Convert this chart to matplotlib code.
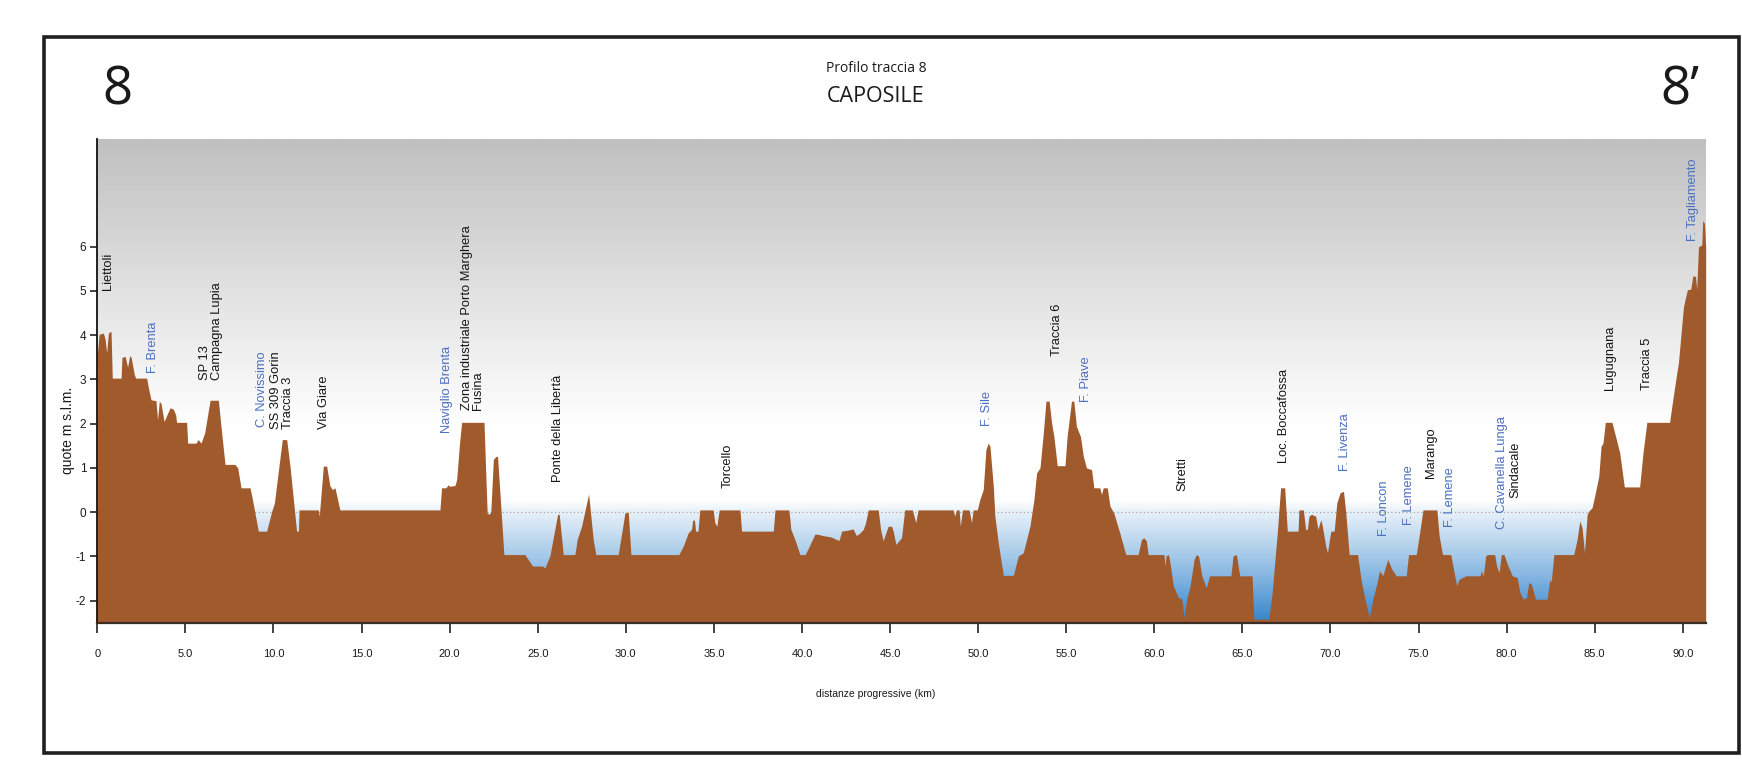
import numpy as np
import matplotlib
matplotlib.use("Agg")
import matplotlib.pyplot as plt
from matplotlib.patches import Rectangle
from matplotlib.colors import LinearSegmentedColormap

# ---------------- data ----------------
km = [0.00, 0.10, 0.34, 0.45, 0.53, 0.63, 0.78, 0.85, 1.35, 1.40, 1.58, 1.72, 1.84, 1.92, 2.10, 2.18,
      2.80, 2.90, 3.05, 3.33, 3.42, 3.52, 3.62, 3.79, 4.13, 4.31, 4.45, 4.50, 5.07, 5.13, 5.60, 5.73,
      5.89, 6.10, 6.40, 6.87, 7.06, 7.25, 7.81, 7.97, 8.16, 8.67, 8.80, 9.14, 9.61, 9.90, 10.05, 10.30,
      10.50, 10.75, 10.95, 11.31, 11.42, 11.45, 12.54, 12.60, 12.83, 13.02, 13.20, 13.34, 13.49, 13.77,
      19.45, 19.54, 19.79, 19.92, 20.00, 20.06, 20.30, 20.40, 20.55, 20.68, 21.95, 22.13, 22.25, 22.34,
      22.48, 22.63, 22.72, 23.08, 24.27, 24.71, 25.27, 25.41, 25.69, 26.13, 26.22, 26.45, 27.11, 27.24,
      27.49, 27.89, 28.15, 28.30, 29.57, 29.95, 30.14, 30.29, 33.01, 33.26, 33.54, 33.73, 33.80, 33.90,
      33.96, 34.10, 34.20, 34.96, 35.05, 35.17, 35.30, 36.48, 36.57, 38.37, 38.47, 39.26, 39.37, 39.60,
      39.88, 40.17, 40.32, 40.73, 40.90, 41.18, 41.64, 41.96, 42.11, 42.25, 42.58, 42.90, 43.01, 43.09,
      43.29, 43.48, 43.61, 43.76, 44.33, 44.46, 44.61, 44.89, 45.09, 45.18, 45.33, 45.65, 45.83, 46.27,
      46.46, 46.59, 48.58, 48.67, 48.77, 48.92, 48.99, 49.11, 49.49, 49.62, 49.72, 49.95, 50.10, 50.29,
      50.44, 50.57, 50.67, 50.86, 50.95, 51.14, 51.43, 52.00, 52.28, 52.56, 52.94, 53.17, 53.32, 53.51,
      53.70, 53.85, 54.03, 54.17, 54.30, 54.49, 54.93, 55.05, 55.30, 55.43, 55.58, 55.81, 55.97, 56.15,
      56.44, 56.57, 56.91, 57.00, 57.10, 57.33, 57.48, 57.70, 58.04, 58.38, 59.08, 59.27, 59.40, 59.55,
      59.65, 60.55, 60.61, 60.67, 60.80, 60.89, 61.08, 61.37, 61.56, 61.69, 61.84, 62.03, 62.26, 62.38,
      62.51, 62.70, 62.95, 63.14, 64.35, 64.47, 64.66, 64.85, 65.55, 65.65, 66.50, 66.69, 66.98, 67.17,
      67.40, 67.55, 68.16, 68.21, 68.46, 68.59, 68.69, 68.78, 68.92, 69.16, 69.29, 69.45, 69.54, 69.73,
      69.83, 70.02, 70.21, 70.36, 70.55, 70.74, 70.87, 71.06, 71.54, 71.73, 71.96, 72.21, 72.40, 72.65,
      72.78, 72.97, 73.25, 73.48, 73.73, 74.30, 74.43, 74.87, 75.06, 75.25, 76.04, 76.17, 76.36, 76.83,
      77.02, 77.17, 77.30, 77.49, 77.68, 78.49, 78.57, 78.68, 78.81, 78.91, 79.32, 79.43, 79.57, 79.70,
      79.85, 80.08, 80.32, 80.60, 80.75, 80.94, 81.13, 81.26, 81.40, 81.64, 82.30, 82.45, 82.53, 82.68,
      83.81, 84.00, 84.15, 84.28, 84.42, 84.57, 84.66, 84.85, 85.04, 85.23, 85.36, 85.47, 85.60, 85.98,
      86.23, 86.42, 86.68, 87.55, 87.74, 87.96, 89.25, 89.43, 89.66, 89.75, 90.04, 90.26, 90.45, 90.57,
      90.72, 90.79, 90.89, 91.08, 91.13, 91.23, 91.30]
quota = [3.56, 4.02, 4.05, 3.90, 3.60, 4.05, 4.09, 3.03, 3.03, 3.50, 3.52, 3.28, 3.54, 3.50, 3.11, 3.03,
         3.03, 2.81, 2.54, 2.52, 2.09, 2.51, 2.45, 2.05, 2.36, 2.33, 2.20, 2.03, 2.03, 1.56, 1.56, 1.64,
         1.56, 1.80, 2.53, 2.53, 1.79, 1.08, 1.08, 1.00, 0.55, 0.55, 0.30, -0.43, -0.43, 0.02, 0.20, 1.00,
         1.64, 1.64, 1.00, -0.43, -0.43, 0.05, 0.05, -0.09, 1.04, 1.04, 0.60, 0.51, 0.55, 0.05,
         0.05, 0.55, 0.55, 0.62, 0.58, 0.59, 0.60, 0.74, 1.50, 2.03, 2.03, -0.02, -0.05, 0.02,
         1.19, 1.26, 1.26, -0.96, -0.96, -1.22, -1.22, -1.26, -0.99, -0.05, -0.05, -0.96, -0.96, -0.62,
         -0.32, 0.41, -0.62, -0.96, -0.96, -0.02, 0.00, -0.96, -0.96, -0.77, -0.47, -0.39, -0.18, -0.18,
         -0.43, -0.43, 0.05, 0.05, -0.24, -0.32, 0.05, 0.05, -0.43, -0.43, 0.05, 0.05, -0.39, -0.62,
         -0.96, -0.96, -0.85, -0.50, -0.50, -0.53, -0.56, -0.62, -0.64, -0.43, -0.41, -0.38, -0.47, -0.53,
         -0.47, -0.39, -0.24, 0.05, 0.05, -0.39, -0.65, -0.32, -0.32, -0.43, -0.73, -0.58, 0.05, 0.05,
         -0.24, 0.05, 0.05, -0.09, 0.05, 0.05, -0.32, 0.05, 0.05, -0.24, 0.05, 0.05, 0.29, 0.51,
         1.41, 1.56, 1.49, 0.59, -0.09, -0.69, -1.43, -1.43, -0.99, -0.92, -0.32, 0.29, 0.89, 1.00,
         1.79, 2.51, 2.51, 2.02, 1.71, 1.05, 1.05, 1.71, 2.51, 2.51, 1.94, 1.71, 1.26, 1.00,
         0.96, 0.55, 0.55, 0.40, 0.55, 0.55, 0.14, -0.02, -0.47, -0.96, -0.96, -0.62, -0.58, -0.65,
         -0.96, -0.96, -1.22, -0.99, -0.96, -1.14, -1.67, -1.93, -1.97, -2.39, -1.97, -1.67, -1.07, -0.96,
         -0.99, -1.44, -1.71, -1.44, -1.44, -0.99, -0.96, -1.44, -1.44, -2.42, -2.42, -1.82, -0.47, 0.55,
         0.55, -0.43, -0.43, 0.05, 0.05, -0.39, -0.39, -0.09, -0.05, -0.09, -0.39, -0.17, -0.32, -0.77,
         -0.92, -0.43, -0.43, 0.21, 0.44, 0.47, -0.02, -0.96, -0.96, -1.52, -1.97, -2.39, -1.97, -1.59,
         -1.33, -1.44, -1.07, -1.29, -1.44, -1.44, -0.96, -0.96, -0.47, 0.05, 0.05, -0.54, -0.96, -0.96,
         -1.37, -1.67, -1.52, -1.48, -1.44, -1.44, -1.33, -1.44, -0.99, -0.96, -0.96, -1.22, -1.37, -0.96,
         -0.96, -1.22, -1.44, -1.48, -1.81, -1.97, -1.93, -1.59, -1.63, -1.97, -1.97, -1.52, -1.59, -0.96,
         -0.96, -0.62, -0.20, -0.35, -0.92, -0.05, 0.02, 0.10, 0.44, 0.81, 1.49, 1.56, 2.03, 2.03,
         1.64, 1.34, 0.57, 0.57, 1.34, 2.03, 2.03, 2.54, 3.15, 3.37, 4.65, 5.03, 5.04, 5.34,
         5.33, 5.04, 6.00, 6.04, 6.59, 6.53, 6.00]

label_text = ["Liettoli", "F. Brenta", "SP 13\nCampagna Lupia", "C. Novissimo", "SS 309 Gorin\nTraccia 3",
              "Via Giare", "Naviglio Brenta", "Zona industriale Porto Marghera\nFusina",
              "Ponte della Libertà", "Torcello", "F. Sile", "Traccia 6", "F. Piave", "Stretti",
              "Loc. Boccafossa", "F. Livenza", "F. Loncon", "F. Lemene", "Marango", "F. Lemene",
              "C. Cavanella Lunga", "Sindacale", "Lugugnana", "Traccia 5", "F. Tagliamento"]
label_km = [0.62, 3.14, 6.46, 9.33, 10.47, 12.87, 19.87, 21.29, 26.17, 35.81, 50.48, 54.48, 56.11, 61.60,
            67.37, 70.85, 73.03, 74.46, 75.68, 76.81, 79.76, 80.48, 85.86, 87.97, 90.58]
label_base = [5.03, 3.15, 2.98, 1.92, 1.87, 1.87, 1.78, 2.30, 0.69, 0.55, 1.94, 3.52, 2.48, 0.47,
              1.11, 0.93, -0.53, -0.28, 0.78, -0.33, -0.38, 0.33, 2.77, 2.77, 6.14]
label_water = [False, True, False, True, False, False, True, False, False, False, True, False, True, False,
               False, True, True, True, False, True, True, False, False, False, True]

x_ticks = list(range(0, 95, 5))
x_ticklabels = ["0"] + [f"{v:.1f}" for v in x_ticks[1:]]
y_ticks = [-2, -1, 0, 1, 2, 3, 4, 5, 6]

# ---------------- figure ----------------
W, H = 1742, 774
fig = plt.figure(figsize=(W / 100, H / 100), dpi=100)
fig.patch.set_facecolor("white")

ax = fig.add_axes([97.3 / W, 1 - 622.7 / H, (1705.7 - 97.3) / W, (622.7 - 139.3) / H])
YMIN, YMAX = -2.5, 8.43
XMAX = 91.3
ax.set_xlim(0, XMAX)
ax.set_ylim(YMIN, YMAX)

# background gradient (grey sky -> white -> blue water)
stops = [
    (YMIN, (55, 133, 200)),
    (-2.0, (92, 157, 214)),
    (-1.5, (130, 180, 225)),
    (-1.0, (165, 201, 232)),
    (-0.5, (199, 221, 241)),
    (0.0, (232, 241, 249)),
    (0.25, (255, 255, 255)),
    (2.0, (255, 255, 255)),
    (YMAX, (192, 192, 192)),
]
pos = [(s[0] - YMIN) / (YMAX - YMIN) for s in stops]
cols = [tuple(c / 255 for c in s[1]) for s in stops]
cmap = LinearSegmentedColormap.from_list("bg", list(zip(pos, cols)))
grad = np.linspace(0, 1, 600).reshape(-1, 1)
ax.imshow(grad, cmap=cmap, aspect="auto", origin="lower",
          extent=[0, XMAX, YMIN, YMAX], zorder=0, interpolation="bilinear")

ax.axhline(0, color="#a8a8a8", lw=0.9, ls=(0, (1, 2)), zorder=1)
ax.fill_between(km, quota, YMIN, color="#a05a2c", lw=0, zorder=2)

# spines
for s in ["top", "right"]:
    ax.spines[s].set_visible(False)
ax.spines["left"].set_color("#111111")
ax.spines["left"].set_linewidth(1.3)
ax.spines["bottom"].set_color("#3a2c24")
ax.spines["bottom"].set_linewidth(1.6)
ax.spines["left"].set_zorder(5)
ax.spines["bottom"].set_zorder(5)

ax.set_xticks(x_ticks)
ax.set_xticklabels(x_ticklabels, family="Liberation Sans", fontsize=8, color="#1a1a1a")
ax.set_yticks(y_ticks)
ax.set_yticklabels([str(v) for v in y_ticks], family="Liberation Sans", fontsize=8.5, color="#1a1a1a")
ax.tick_params(axis="x", direction="out", length=7, width=1.2, pad=12, color="#222222")
ax.tick_params(axis="y", direction="out", length=5, width=1.2, pad=3, color="#222222")

# labels along the profile
for t, x, y, w in zip(label_text, label_km, label_base, label_water):
    ax.text(x, y, t, rotation=90, ha="center", va="bottom", multialignment="left",
            family="Liberation Sans", fontsize=9.3, linespacing=0.95,
            color="#4a70c0" if w else "#151515", zorder=4)

# axis titles
fig.text(68.3 / W, 1 - 430 / H, "quote m s.l.m.", rotation=90, ha="center", va="center",
         family="Liberation Sans", fontsize=10, color="#1a1a1a")
fig.text(875.5 / W, 1 - 694.4 / H, "distanze progressive (km)", ha="center", va="center",
         family="Liberation Sans", fontsize=7.5, color="#1a1a1a")

# headings
fig.text(876 / W, 1 - 69 / H, "Profilo traccia 8", ha="center", va="center",
         family="Open Sans", fontsize=10, color="#1a1a1a")
fig.text(876 / W, 1 - 97 / H, "CAPOSILE", ha="center", va="center",
         family="Open Sans", fontsize=15.5, color="#1a1a1a")
fig.text(117 / W, 1 - 91 / H, "8", ha="center", va="center",
         family="Open Sans", fontsize=38, color="#1a1a1a")
fig.text(1680 / W, 1 - 91 / H, "8’", ha="center", va="center",
         family="Open Sans", fontsize=38, color="#1a1a1a")

# outer frame
fig.add_artist(Rectangle((44 / W, 1 - 753 / H), (1739 - 44) / W, (753 - 37) / H,
                         transform=fig.transFigure, fill=False, lw=2.6, ec="#231f20"))

fig.savefig("out.png", dpi=100, facecolor="white")
